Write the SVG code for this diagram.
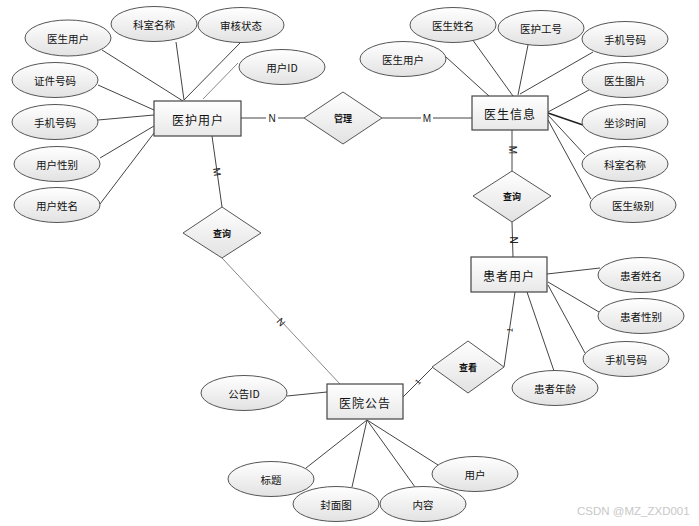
<svg xmlns="http://www.w3.org/2000/svg" width="699" height="526" viewBox="0 0 699 526">
<defs>
<linearGradient id="g" x1="0" y1="0" x2="0" y2="1">
<stop offset="0" stop-color="#ffffff"/>
<stop offset="1" stop-color="#e2e2e2"/>
</linearGradient>
<linearGradient id="gr" x1="0" y1="0" x2="0" y2="1">
<stop offset="0" stop-color="#ffffff"/>
<stop offset="1" stop-color="#e8e8e8"/>
</linearGradient>
<style>
text{font-family:"Noto Sans CJK SC","Liberation Sans",sans-serif;fill:#111;text-anchor:middle;dominant-baseline:central}
.a ellipse{fill:url(#g);stroke:#555;stroke-width:1}
.a text{font-size:10.5px}
.e rect{fill:url(#gr);stroke:#444;stroke-width:1.2}
.e text{font-size:12px;letter-spacing:1px}
.r polygon{fill:url(#g);stroke:#555;stroke-width:1}
.r text{font-size:9px;font-weight:bold}
#connectors line{stroke:#444;stroke-width:1}
#connectors .lt{stroke:#888}
#connectors .th{stroke:#222;stroke-width:1.6}
.lb{font-size:10px;fill:#222;font-family:"Liberation Sans",sans-serif}
.wm{font-size:11.5px;fill:#c8c8c8;font-family:"Liberation Sans",sans-serif;text-anchor:start}
</style>
</defs>
<rect width="699" height="526" fill="#ffffff"/>
<g id="connectors">
<line x1="102" y1="50" x2="183" y2="101"/>
<line x1="176" y1="42" x2="184" y2="100"/>
<line x1="240" y1="43" x2="184" y2="100"/>
<line class="lt" x1="238" y1="63" x2="203" y2="99"/>
<line x1="98" y1="85" x2="154" y2="110"/>
<line x1="98" y1="120" x2="154" y2="115"/>
<line x1="100" y1="158" x2="154" y2="126"/>
<line x1="100" y1="204" x2="154" y2="133"/>
<line x1="446" y1="57" x2="489" y2="96"/>
<line x1="472" y1="39" x2="513" y2="96"/>
<line x1="528" y1="45" x2="518" y2="95"/>
<line x1="593" y1="52" x2="520" y2="94"/>
<line x1="589" y1="90" x2="548" y2="112"/>
<line class="th" x1="583" y1="125" x2="548" y2="113"/>
<line x1="585" y1="155" x2="548" y2="115"/>
<line x1="591" y1="199" x2="548" y2="120"/>
<line x1="547" y1="274" x2="600" y2="268"/>
<line x1="548" y1="282" x2="599" y2="312"/>
<line x1="548" y1="285" x2="585" y2="353"/>
<line x1="527" y1="292" x2="554" y2="371"/>
<line x1="287" y1="396" x2="327" y2="392"/>
<line x1="367" y1="420" x2="306" y2="468"/>
<line x1="367" y1="420" x2="352" y2="487"/>
<line x1="367" y1="420" x2="415" y2="487"/>
<line x1="367" y1="420" x2="438" y2="465"/>
<line x1="241" y1="118" x2="304" y2="118"/>
<line x1="382" y1="118" x2="472" y2="118"/>
<line x1="212" y1="136" x2="222" y2="207"/>
<line class="lt" x1="222" y1="258" x2="340" y2="384"/>
<line x1="512" y1="130" x2="512" y2="171"/>
<line x1="512" y1="222" x2="513" y2="257"/>
<line x1="515" y1="292" x2="504" y2="367"/>
<line x1="433" y1="367" x2="403" y2="397"/>
<rect x="266" y="112" width="12" height="12" fill="#fff"/>
<text class="lb" x="272" y="118">N</text>
<rect x="421" y="112" width="12" height="12" fill="#fff"/>
<text class="lb" x="427" y="118">M</text>
<text class="lb" transform="translate(217,172) rotate(82)">M</text>
<text class="lb" transform="translate(281,322) rotate(47)">N</text>
<text class="lb" transform="translate(512,150) rotate(90)">M</text>
<text class="lb" transform="translate(513,240) rotate(90)">N</text>
<text class="lb" style="font-size:8px" transform="translate(510,330) rotate(-82)">1</text>
<text class="lb" style="font-size:8px" transform="translate(418,382) rotate(-45)">1</text>
</g>
<g id="yihu" class="e"><rect x="154" y="101" width="87" height="35"/><text x="198" y="119">医护用户</text></g>
<g id="yisheng" class="e"><rect x="472" y="96" width="76" height="34"/><text x="510" y="113">医生信息</text></g>
<g id="huanzhe" class="e"><rect x="471" y="257" width="76" height="35"/><text x="509" y="275">患者用户</text></g>
<g id="gonggao" class="e"><rect x="327" y="384" width="76" height="35"/><text x="365" y="402">医院公告</text></g>
<g id="guanli" class="r"><polygon points="304,118 343,92 382,118 343,144"/><text x="343" y="118">管理</text></g>
<g id="chaxun1" class="r"><polygon points="183,233 222,207 261,233 222,258"/><text x="222" y="233">查询</text></g>
<g id="chaxun2" class="r"><polygon points="473,196 512,171 551,196 512,222"/><text x="512" y="196">查询</text></g>
<g id="chakan" class="r"><polygon points="432,367 468,341 504,367 468,393"/><text x="468" y="367">查看</text></g>
<g id="a1" class="a"><ellipse cx="68" cy="38" rx="43" ry="18"/><text x="68" y="38">医生用户</text></g>
<g id="a2" class="a"><ellipse cx="154" cy="24" rx="43" ry="17.5"/><text x="154" y="24">科室名称</text></g>
<g id="a3" class="a"><ellipse cx="241" cy="25" rx="43" ry="17.5"/><text x="241" y="25">审核状态</text></g>
<g id="a4" class="a"><ellipse cx="282" cy="67" rx="43" ry="17.5"/><text x="282" y="67">用户ID</text></g>
<g id="a5" class="a"><ellipse cx="55" cy="80" rx="43" ry="17.5"/><text x="55" y="80">证件号码</text></g>
<g id="a6" class="a"><ellipse cx="55" cy="122" rx="43" ry="17.5"/><text x="55" y="122">手机号码</text></g>
<g id="a7" class="a"><ellipse cx="57" cy="164" rx="43" ry="17.5"/><text x="57" y="164">用户性别</text></g>
<g id="a8" class="a"><ellipse cx="57" cy="205" rx="43" ry="17.5"/><text x="57" y="205">用户姓名</text></g>
<g id="b1" class="a"><ellipse cx="453" cy="25" rx="43" ry="17.5"/><text x="453" y="25">医生姓名</text></g>
<g id="b2" class="a"><ellipse cx="541" cy="28" rx="43" ry="17.5"/><text x="541" y="28">医护工号</text></g>
<g id="b3" class="a"><ellipse cx="625" cy="39" rx="43" ry="17.5"/><text x="625" y="39">手机号码</text></g>
<g id="b4" class="a"><ellipse cx="403" cy="59" rx="43" ry="17.5"/><text x="403" y="59">医生用户</text></g>
<g id="b5" class="a"><ellipse cx="625" cy="80" rx="43" ry="17.5"/><text x="625" y="80">医生图片</text></g>
<g id="b6" class="a"><ellipse cx="625" cy="122" rx="43" ry="17.5"/><text x="625" y="122">坐诊时间</text></g>
<g id="b7" class="a"><ellipse cx="625" cy="164" rx="43" ry="17.5"/><text x="625" y="164">科室名称</text></g>
<g id="b8" class="a"><ellipse cx="633" cy="205" rx="43" ry="17.5"/><text x="633" y="205">医生级别</text></g>
<g id="c1" class="a"><ellipse cx="641" cy="275" rx="43" ry="17.5"/><text x="641" y="275">患者姓名</text></g>
<g id="c2" class="a"><ellipse cx="641" cy="316" rx="43" ry="17.5"/><text x="641" y="316">患者性别</text></g>
<g id="c3" class="a"><ellipse cx="626" cy="359" rx="43" ry="17.5"/><text x="626" y="359">手机号码</text></g>
<g id="c4" class="a"><ellipse cx="555" cy="388" rx="43" ry="17.5"/><text x="555" y="388">患者年龄</text></g>
<g id="d1" class="a"><ellipse cx="244" cy="393" rx="43" ry="17.5"/><text x="244" y="393">公告ID</text></g>
<g id="d2" class="a"><ellipse cx="271" cy="479" rx="43" ry="17.5"/><text x="271" y="479">标题</text></g>
<g id="d3" class="a"><ellipse cx="336" cy="504" rx="43" ry="17.5"/><text x="336" y="504">封面图</text></g>
<g id="d4" class="a"><ellipse cx="423" cy="504" rx="43" ry="17.5"/><text x="423" y="504">内容</text></g>
<g id="d5" class="a"><ellipse cx="475" cy="474" rx="43" ry="17.5"/><text x="475" y="474">用户</text></g>
<text class="wm" x="577" y="511">CSDN @MZ_ZXD001</text>
</svg>
